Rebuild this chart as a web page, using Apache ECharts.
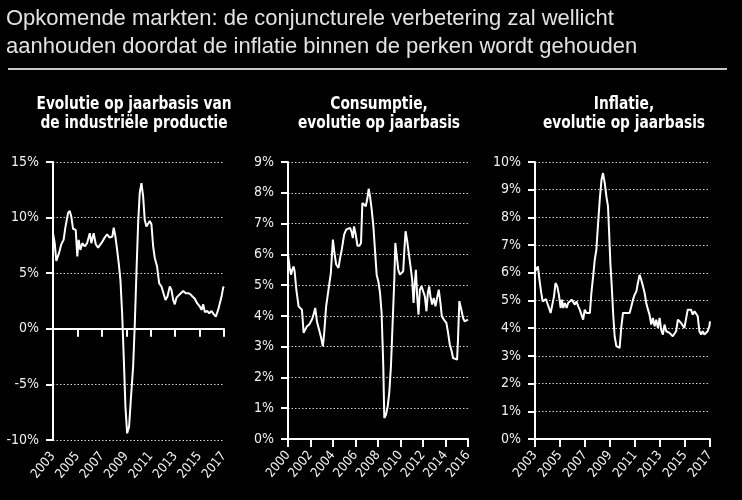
<!DOCTYPE html>
<html>
<head>
<meta charset="utf-8">
<script src="https://cdn.jsdelivr.net/npm/echarts@6/dist/echarts.min.js"></script>
<style>
  html, body { margin: 0; padding: 0; background: #000; }
  #chart { width: 742px; height: 500px; }
</style>
</head>
<body>
<div id="chart"></div>
<script>
// industriële productie, % j/j
var ipYears = [2003.00, 2003.14, 2003.27, 2003.49, 2003.68, 2003.87, 2004.01, 2004.23, 2004.37, 2004.50,
  2004.64, 2004.86, 2004.99, 2005.10, 2005.24, 2005.40, 2005.60, 2005.79, 2006.01, 2006.14,
  2006.33, 2006.50, 2006.69, 2006.96, 2007.23, 2007.43, 2007.64, 2007.86, 2007.97, 2008.11,
  2008.25, 2008.38, 2008.52, 2008.66, 2008.79, 2008.93, 2009.07, 2009.23, 2009.37, 2009.56,
  2009.69, 2009.83, 2009.97, 2010.10, 2010.24, 2010.38, 2010.51, 2010.65, 2010.79, 2010.92,
  2011.06, 2011.20, 2011.33, 2011.52, 2011.69, 2011.88, 2012.07, 2012.21, 2012.37, 2012.56,
  2012.70, 2012.84, 2012.97, 2013.11, 2013.25, 2013.38, 2013.66, 2013.87, 2014.07, 2014.26,
  2014.42, 2014.61, 2014.80, 2015.02, 2015.16, 2015.30, 2015.43, 2015.62, 2015.79, 2015.98,
  2016.17, 2016.33, 2016.52, 2016.66, 2016.80, 2016.93, 2016.99]
var ipValues = [8.6, 7.7, 6.1, 6.8, 7.6, 8.0, 9.1, 10.4, 10.6, 10.1,
  9.0, 8.9, 6.5, 8.0, 7.1, 7.7, 7.4, 7.7, 8.6, 7.7,
  8.6, 7.6, 7.3, 7.7, 8.2, 8.5, 8.2, 8.3, 9.1, 8.3,
  7.1, 5.9, 4.4, 1.4, -2.5, -7.0, -9.4, -8.8, -6.4, -3.4,
  0.2, 5.0, 9.5, 12.2, 13.1, 11.9, 9.8, 9.2, 9.1, 9.7,
  9.4, 7.4, 6.4, 5.6, 4.1, 3.8, 3.1, 2.6, 2.9, 3.8,
  3.5, 2.6, 2.2, 2.8, 2.9, 3.1, 3.4, 3.2, 3.2, 3.1,
  2.9, 2.7, 2.3, 2.0, 1.7, 2.2, 1.5, 1.6, 1.4, 1.6,
  1.3, 1.1, 1.7, 2.3, 2.9, 3.7, 3.8]

// consumptie, % j/j
var consYears = [2000.00, 2000.15, 2000.27, 2000.38, 2000.50, 2000.59, 2000.74, 2000.94, 2001.09, 2001.24,
  2001.39, 2001.54, 2001.68, 2001.89, 2002.13, 2002.27, 2002.42, 2002.57, 2002.80, 2002.95,
  2003.10, 2003.22, 2003.39, 2003.60, 2003.81, 2003.99, 2004.13, 2004.28, 2004.49, 2004.63,
  2004.78, 2004.99, 2005.17, 2005.34, 2005.52, 2005.67, 2005.76, 2005.87, 2006.02, 2006.17,
  2006.35, 2006.49, 2006.61, 2006.76, 2006.91, 2007.06, 2007.17, 2007.29, 2007.44, 2007.59,
  2007.73, 2007.88, 2008.03, 2008.18, 2008.32, 2008.47, 2008.56, 2008.71, 2008.86, 2009.00,
  2009.15, 2009.30, 2009.45, 2009.54, 2009.65, 2009.80, 2009.95, 2010.10, 2010.24, 2010.33,
  2010.45, 2010.60, 2010.75, 2010.89, 2011.04, 2011.16, 2011.25, 2011.37, 2011.48, 2011.60,
  2011.72, 2011.87, 2012.01, 2012.16, 2012.31, 2012.43, 2012.55, 2012.66, 2012.81, 2012.96,
  2013.11, 2013.25, 2013.40, 2013.55, 2013.67, 2013.85, 2014.08, 2014.23, 2014.38, 2014.55,
  2014.67, 2014.82, 2015.03, 2015.11, 2015.23, 2015.41, 2015.56, 2015.70, 2015.85, 2016.00]
var consValues = [5.99, 5.56, 5.34, 5.50, 5.61, 5.45, 4.85, 4.31, 4.26, 4.20,
  3.45, 3.50, 3.66, 3.72, 3.88, 4.04, 4.26, 3.82, 3.50, 3.28,
  3.01, 3.45, 4.31, 4.85, 5.40, 6.48, 6.05, 5.67, 5.56, 5.88,
  6.15, 6.64, 6.80, 6.86, 6.86, 6.70, 6.53, 6.91, 6.64, 6.28,
  6.28, 6.37, 7.67, 7.62, 7.56, 7.83, 8.13, 7.89, 7.45, 6.91,
  6.15, 5.34, 5.12, 4.75, 4.10, 2.36, 0.68, 0.79, 1.06, 1.50,
  2.36, 3.77, 5.18, 6.37, 5.99, 5.50, 5.34, 5.40, 5.45, 6.05,
  6.75, 6.42, 5.99, 5.61, 5.18, 4.42, 4.96, 5.50, 4.64, 4.04,
  4.85, 4.96, 5.02, 4.64, 4.15, 4.75, 4.96, 4.64, 4.37, 4.58,
  4.31, 4.58, 4.85, 4.42, 3.99, 3.88, 3.77, 3.45, 3.07, 2.85,
  2.63, 2.58, 2.58, 3.23, 4.48, 4.20, 3.93, 3.82, 3.82, 3.88]

// inflatie, % j/j
var inflYears = [2003.00, 2003.14, 2003.23, 2003.34, 2003.48, 2003.61, 2003.74, 2003.88, 2003.98, 2004.12,
  2004.25, 2004.38, 2004.52, 2004.64, 2004.78, 2004.91, 2005.05, 2005.15, 2005.26, 2005.39,
  2005.53, 2005.65, 2005.79, 2005.93, 2006.05, 2006.19, 2006.32, 2006.46, 2006.58, 2006.72,
  2006.85, 2006.98, 2007.12, 2007.25, 2007.39, 2007.51, 2007.65, 2007.78, 2007.91, 2008.05,
  2008.18, 2008.32, 2008.44, 2008.58, 2008.71, 2008.84, 2008.92, 2009.03, 2009.14, 2009.25,
  2009.37, 2009.51, 2009.64, 2009.77, 2009.91, 2010.04, 2010.18, 2010.30, 2010.44, 2010.57,
  2010.71, 2010.84, 2010.97, 2011.11, 2011.23, 2011.37, 2011.50, 2011.64, 2011.77, 2011.90,
  2012.04, 2012.16, 2012.30, 2012.43, 2012.57, 2012.70, 2012.83, 2012.97, 2013.09, 2013.23,
  2013.36, 2013.50, 2013.62, 2013.76, 2013.90, 2014.02, 2014.16, 2014.29, 2014.43, 2014.55,
  2014.69, 2014.83, 2014.95, 2015.09, 2015.22, 2015.36, 2015.48, 2015.62, 2015.76, 2015.88,
  2016.02, 2016.15, 2016.29, 2016.41, 2016.55, 2016.69, 2016.81, 2016.95, 2017.00]
var inflValues = [6.05, 6.05, 6.23, 5.81, 5.33, 4.97, 5.01, 5.05, 4.91, 4.73,
  4.55, 4.49, 5.15, 5.63, 5.51, 5.21, 4.73, 5.03, 4.73, 4.91,
  4.73, 4.91, 4.85, 5.03, 4.97, 4.85, 4.97, 4.79, 4.67, 4.73,
  4.31, 4.67, 4.55, 4.55, 4.55, 5.27, 5.87, 6.47, 6.84, 7.80,
  8.64, 9.36, 9.60, 9.24, 8.76, 8.40, 7.56, 6.35, 5.51, 4.55,
  3.71, 3.35, 3.35, 3.29, 4.07, 4.55, 4.61, 4.55, 4.49, 4.55,
  4.79, 5.03, 5.21, 5.33, 5.63, 5.93, 5.75, 5.51, 5.27, 4.91,
  4.67, 4.49, 4.13, 4.37, 4.07, 4.31, 4.01, 4.37, 3.95, 3.77,
  4.13, 3.89, 3.89, 3.83, 3.89, 3.71, 3.65, 3.89, 4.31, 4.25,
  4.19, 4.13, 4.01, 4.07, 4.67, 4.73, 4.67, 4.49, 4.61, 4.55,
  4.43, 3.89, 3.77, 3.89, 3.77, 3.83, 3.89, 4.07, 4.25]

var mainTitle = 'Opkomende markten: de conjuncturele verbetering zal wellicht\naanhouden doordat de inflatie binnen de perken wordt gehouden'
var panelTitles = [
  'Evolutie op jaarbasis van\nde industriële productie',
  'Consumptie,\nevolutie op jaarbasis',
  'Inflatie,\nevolutie op jaarbasis'
]
var panelCenters = [134, 379, 624]

var narrow = '"DejaVu Sans Condensed", "Liberation Sans Narrow", sans-serif'
var white = '#ffffff'

function zip (xs, ys) {
  return xs.map(function (x, i) { return [x, ys[i]] })
}

function yAxisFor (grid, min, max, interval) {
  return {
    type: 'value',
    gridIndex: grid,
    min: min,
    max: max,
    interval: interval,
    axisLine: { show: true, lineStyle: { color: white, width: 2 } },
    axisTick: { show: true, length: 7, lineStyle: { color: white, width: 2 } },
    axisLabel: { color: '#f0f0f0', fontFamily: narrow, fontSize: 14, margin: 14, formatter: '{value}%' },
    splitLine: { show: true, lineStyle: { color: '#d0d0d0', width: 1, type: [1.5, 2] } }
  }
}

function xLabels () {
  return { show: true, color: '#f0f0f0', fontFamily: narrow, fontSize: 13, rotate: 50, margin: 14,
    formatter: function (v) { return String(Math.round(v)) } }
}

// panel titels: vet, smal (horizontaal samengedrukt)
var titleTexts = panelTitles.map(function (t, i) {
  return { type: 'text', x: panelCenters[i], y: 95, scaleX: 0.85,
    style: { text: t, fill: white, font: 'bold 18px ' + narrow, textAlign: 'center', lineHeight: 19 } }
})

var chart = echarts.init(document.getElementById('chart'))
chart.setOption({
  backgroundColor: '#000',
  animation: false,
  graphic: [
    { type: 'text', x: 6, y: 5,
      style: { text: mainTitle, fill: '#e2e2e2', font: '22px "Liberation Sans", Arial, sans-serif', lineHeight: 28 } },
    { type: 'line', shape: { x1: 8, y1: 69, x2: 727, y2: 69 }, style: { stroke: '#c8c8c8', lineWidth: 2 } }
  ].concat(titleTexts),
  grid: [
    { left: 53, right: 518, top: 162, bottom: 60 },
    { left: 288, right: 274, top: 162, bottom: 61 },
    { left: 535, right: 32, top: 162, bottom: 61 }
  ],
  xAxis: [
    { // nul-lijn met streepjes
      type: 'value', gridIndex: 0, min: 2003, max: 2017, interval: 2, position: 'bottom',
      axisLine: { show: true, onZero: true, lineStyle: { color: white, width: 2 } },
      axisTick: { show: true, length: 8, lineStyle: { color: white, width: 2 } },
      axisLabel: { show: false },
      splitLine: { show: false }
    },
    { // jaartallen onderaan
      type: 'value', gridIndex: 0, min: 2003, max: 2017, interval: 2, position: 'bottom',
      axisLine: { show: false, onZero: false },
      axisTick: { show: false },
      axisLabel: xLabels(),
      splitLine: { show: false }
    },
    {
      type: 'value', gridIndex: 1, min: 2000, max: 2016, interval: 2,
      axisLine: { show: true, lineStyle: { color: white, width: 2 } },
      axisTick: { show: true, length: 8, lineStyle: { color: white, width: 2 } },
      axisLabel: xLabels(),
      splitLine: { show: false }
    },
    {
      type: 'value', gridIndex: 2, min: 2003, max: 2017, interval: 2,
      axisLine: { show: true, lineStyle: { color: white, width: 2 } },
      axisTick: { show: true, length: 8, lineStyle: { color: white, width: 2 } },
      axisLabel: xLabels(),
      splitLine: { show: false }
    }
  ],
  yAxis: [
    yAxisFor(0, -10, 15, 5),
    yAxisFor(1, 0, 9, 1),
    yAxisFor(2, 0, 10, 1)
  ],
  series: [
    { type: 'line', xAxisIndex: 0, yAxisIndex: 0, data: zip(ipYears, ipValues),
      showSymbol: false, lineStyle: { color: white, width: 2 } },
    { type: 'line', xAxisIndex: 2, yAxisIndex: 1, data: zip(consYears, consValues),
      showSymbol: false, lineStyle: { color: white, width: 2 } },
    { type: 'line', xAxisIndex: 3, yAxisIndex: 2, data: zip(inflYears, inflValues),
      showSymbol: false, lineStyle: { color: white, width: 2 } }
  ]
})
</script>
</body>
</html>
